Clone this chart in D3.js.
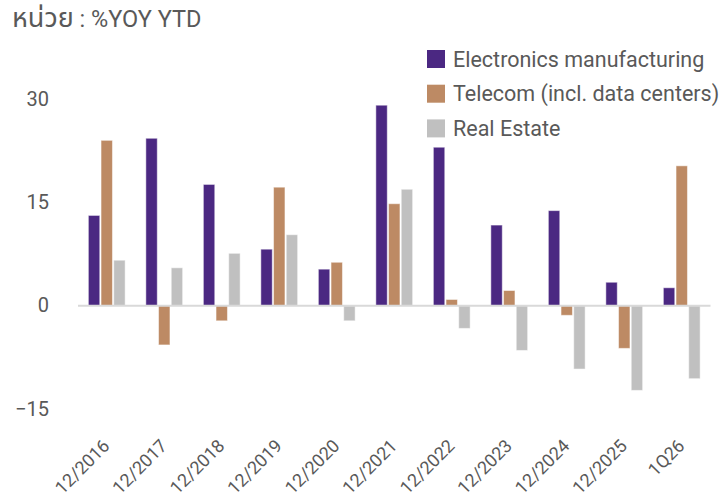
<!DOCTYPE html>
<html>
<head>
<meta charset="utf-8">
<script src="https://cdn.jsdelivr.net/npm/d3@7"></script>
<style>
  body { margin: 0; background: #fff; }
  svg text { font-family: Roboto, "Noto Sans Thai", "Noto Sans", sans-serif; fill: #595959; }
</style>
</head>
<body>
<div id="chart"></div>
<script>
const categories = ['12/2016', '12/2017', '12/2018', '12/2019', '12/2020', '12/2021', '12/2022', '12/2023', '12/2024', '12/2025', '1Q26']
const seriesNames = ['Electronics manufacturing', 'Telecom (incl. data centers)', 'Real Estate']
const electronics = [13.1, 24.3, 17.6, 8.2, 5.3, 29.1, 23.0, 11.7, 13.8, 3.4, 2.6]
const telecom = [24.0, -5.7, -2.2, 17.2, 6.3, 14.8, 0.9, 2.2, -1.4, -6.2, 20.3]
const realEstate = [6.6, 5.5, 7.6, 10.3, -2.2, 16.9, -3.3, -6.5, -9.2, -12.3, -10.6]
const yTicks = [-15, 0, 15, 30]
const colors = ['#4b2882', '#bd8a64', '#c0c0c0']

const width = 720
const height = 500

const rows = categories.map((c, i) => ({
  cat: c,
  values: [electronics[i], telecom[i], realEstate[i]]
}))

const xScale = d3.scaleBand().domain(categories).range([78, 710.5]).paddingInner(0.36).paddingOuter(0.18)
const xSub = d3.scaleBand().domain(d3.range(3)).range([0, xScale.bandwidth()]).paddingInner(0.1)
const yScale = d3.scaleLinear().domain([-15, 30]).range([409, 99])

const svg = d3.select('#chart')
  .append('svg')
  .attr('width', width)
  .attr('height', height)

// title (thai part rendered by a fallback font, so it gets its own size)
const title = svg.append('text')
  .attr('x', 12)
  .attr('y', 27)
title.append('tspan').style('font-size', '27px').text('หน่วย')
title.append('tspan').style('font-size', '23.5px').text(' : %YOY YTD')

// y axis labels
const yAxis = svg.append('g')
  .attr('transform', 'translate(49,0)')
  .call(d3.axisLeft(yScale).tickValues(yTicks).tickSize(0).tickPadding(0))
yAxis.select('.domain').remove()
yAxis.selectAll('text')
  .attr('dy', '0.3em')
  .style('font-size', '20px')
  .style('font-family', 'Roboto, sans-serif')
  .attr('fill', '#595959')

// bars
const groups = svg.selectAll('.grp')
  .data(rows)
  .enter()
  .append('g')
  .attr('class', 'grp')
  .attr('transform', d => `translate(${xScale(d.cat)},0)`)

groups.selectAll('rect')
  .data(d => d.values.map((v, k) => ({ v, k })))
  .enter()
  .append('rect')
  .attr('x', d => xSub(d.k))
  .attr('width', xSub.bandwidth())
  .attr('y', d => yScale(Math.max(0, d.v)))
  .attr('height', d => Math.abs(yScale(d.v) - yScale(0)))
  .attr('fill', d => colors[d.k])
  .attr('stroke', 'rgba(255,255,255,0.5)')
  .attr('stroke-width', 1)

// zero line
svg.append('line')
  .attr('x1', 78)
  .attr('x2', 710.5)
  .attr('y1', yScale(0))
  .attr('y2', yScale(0))
  .attr('stroke', '#d9d9d9')
  .attr('stroke-width', 2)

// x axis labels
const xAxis = svg.append('g')
  .attr('transform', 'translate(0,440)')
  .call(d3.axisBottom(xScale).tickSize(0).tickPadding(0))
xAxis.select('.domain').remove()
xAxis.selectAll('text')
  .attr('y', 0)
  .attr('dy', 0)
  .attr('text-anchor', 'end')
  .attr('transform', 'translate(4,7) rotate(-45)')
  .style('font-size', '18px')
  .style('font-family', 'Roboto, sans-serif')
  .attr('fill', '#595959')

// legend
const legend = svg.selectAll('.leg')
  .data(seriesNames)
  .enter()
  .append('g')
  .attr('class', 'leg')
  .attr('transform', (d, i) => `translate(427,${50 + i * 34.7})`)

legend.append('rect')
  .attr('width', 18)
  .attr('height', 18)
  .attr('fill', (d, i) => colors[i])

legend.append('text')
  .attr('x', 26)
  .attr('y', 9)
  .attr('dy', '0.35em')
  .style('font-size', '21.5px')
  .text(d => d)
</script>
</body>
</html>
